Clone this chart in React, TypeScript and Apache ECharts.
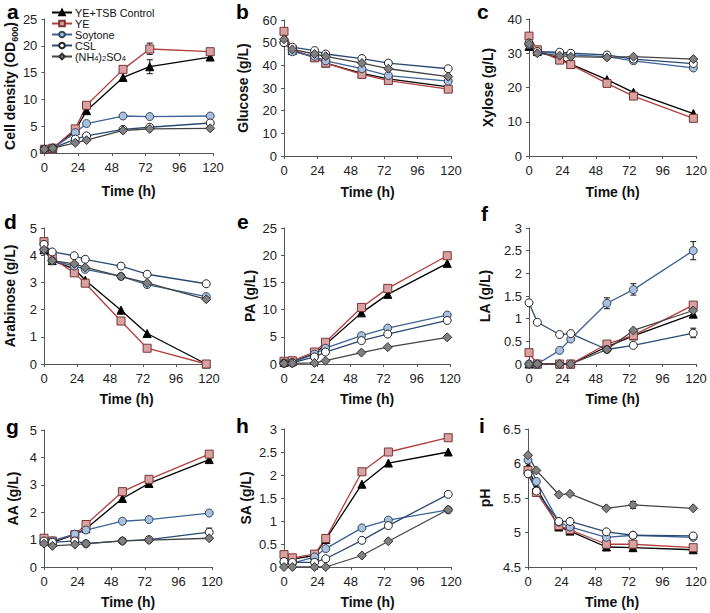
import React, { useEffect, useRef } from "react";
import * as echarts from "echarts";

const times = [0, 6, 22, 30, 56, 75, 118];
const seriesNames = ["YE+TSB Control", "YE", "Soytone", "CSL", "(NH4)2SO4"];

// a: Cell density (OD600)
const odControl = [0.7, 0.9, 4.2, 7.9, 14.1, 16.1, 17.9];
const odYE = [0.7, 0.9, 4.5, 8.9, 15.6, 19.4, 18.9];
const odSoytone = [0.7, 0.9, 3.8, 5.5, 6.9, 6.8, 6.9];
const odCSL = [0.7, 0.9, 2.6, 3.2, 4.4, 4.8, 5.6];
const odNH4 = [0.7, 0.9, 1.9, 2.4, 4.2, 4.5, 4.6];

// b: Glucose
const gluControl = [52, 46.5, 43.5, 41, 36.5, 34, 30.5];
const gluYE = [55, 47, 43.3, 41, 36, 33.3, 29.5];
const gluSoytone = [50, 46, 44, 42, 38.5, 35.5, 33];
const gluCSL = [50, 48, 46.5, 45, 43, 41, 38.5];
const gluNH4 = [51.5, 47, 45, 44, 41, 38.5, 35];

// c: Xylose
const xylControl = [32, 30.5, 28.5, 26.8, 22.3, 18.6, 12.4];
const xylYE = [35, 31, 28, 26.7, 21.2, 17.5, 11];
const xylSoytone = [32.5, 30.3, 30, 29.5, 29, 27.8, 25.7];
const xylCSL = [33, 30.5, 30.3, 30, 29.5, 28.3, 27];
const xylNH4 = [32.7, 30, 29.3, 29, 28.8, 29, 28.3];

// d: Arabinose
const araControl = [4.2, 3.8, 3.5, 3.08, 1.98, 1.12, 0];
const araYE = [4.5, 3.9, 3.35, 2.97, 1.58, 0.58, 0];
const araSoytone = [4.2, 3.8, 3.6, 3.48, 3.22, 2.92, 2.48];
const araCSL = [4.4, 4.12, 3.98, 3.85, 3.6, 3.3, 2.95];
const araNH4 = [4.2, 3.8, 3.68, 3.55, 3.22, 2.98, 2.38];

// e: PA
const paControl = [0.3, 0.4, 1.9, 3.6, 9.4, 12.8, 18.5];
const paYE = [0.5, 0.6, 2.2, 4.0, 10.4, 13.9, 19.9];
const paSoytone = [0.2, 0.3, 1.8, 2.9, 5.2, 6.6, 9.0];
const paCSL = [0.1, 0.2, 1.3, 2.2, 4.3, 5.5, 8.0];
const paNH4 = [0.1, 0.1, 0.2, 0.6, 2.1, 3.1, 4.9];

// f: LA
const laControl = [0, 0, 0, 0, 0.38, 0.62, 1.1];
const laYE = [0.25, 0, 0, 0, 0.44, 0.63, 1.3];
const laSoytone = [0, 0, 0.3, 0.55, 1.34, 1.64, 2.5];
const laCSL = [1.35, 0.92, 0.65, 0.67, 0.32, 0.41, 0.68];
const laNH4 = [0, 0, 0, 0, 0.32, 0.74, 1.18];

// g: AA
const aaControl = [0.95, 0.9, 1.18, 1.4, 2.5, 3.05, 3.92];
const aaYE = [1.05, 0.95, 1.18, 1.55, 2.75, 3.2, 4.12];
const aaSoytone = [0.9, 0.95, 1.2, 1.35, 1.67, 1.73, 1.97];
const aaCSL = [0.95, 0.9, 0.95, 0.85, 0.95, 1.0, 1.27];
const aaNH4 = [0.85, 0.77, 0.82, 0.85, 0.95, 0.98, 1.05];

// h: SA
const saControl = [0.2, 0.17, 0.25, 0.6, 1.8, 2.26, 2.5];
const saYE = [0.27, 0.2, 0.28, 0.62, 2.07, 2.5, 2.81];
const saSoytone = [0.1, 0.08, 0.22, 0.4, 0.85, 1.02, 1.24];
const saCSL = [0.12, 0.1, 0.1, 0.18, 0.58, 0.9, 1.58];
const saNH4 = [0, 0, 0, 0, 0.25, 0.56, 1.25];

// i: pH
const phControl = [5.95, 5.65, 5.08, 5.02, 4.79, 4.78, 4.75];
const phYE = [5.9, 5.58, 5.1, 5.04, 4.83, 4.83, 4.78];
const phSoytone = [6.05, 5.74, 5.15, 5.08, 4.93, 4.96, 4.93];
const phCSL = [5.85, 5.6, 5.16, 5.16, 5.01, 4.96, 4.95];
const phNH4 = [6.12, 5.9, 5.55, 5.56, 5.35, 5.4, 5.35];

// error bars: [time, low, high]
const errA = [[75, 14.8, 17.4], [75, 18.4, 20.5]];
const errF = [[56, 1.22, 1.46], [75, 1.52, 1.77], [118, 2.3, 2.7], [118, 0.58, 0.79]];
const errG = [[118, 1.12, 1.42]];
const errI = [[75, 5.35, 5.45]];

const FONT = "Liberation Sans, Arial, Helvetica, sans-serif";

const styles = [
  { line: "#000000", fill: "#000000", border: "#000000", symbol: "triangle", size: 8 },
  { line: "#b3403f", fill: "#d9a2a2", border: "#7a3535", symbol: "rect", size: 8 },
  { line: "#3b6397", fill: "#a9c0de", border: "#35465e", symbol: "circle", size: 8 },
  { line: "#2a4a73", fill: "#ffffff", border: "#222222", symbol: "circle", size: 8 },
  { line: "#444444", fill: "#808080", border: "#333333", symbol: "diamond", size: 9 },
];

const panels = [
  { letter: "a", lx: 13, ly: 13, yName: "Cell density (OD{sub|600})", min: 0, max: 25, interval: 5, left: 44, top: 19, width: 169, height: 134, gap: 23, xGap: 31, data: [odControl, odYE, odSoytone, odCSL, odNH4], err: errA },
  { letter: "b", lx: 242, ly: 13, yName: "Glucose (g/L)", min: 0, max: 60, interval: 10, left: 284, top: 20, width: 167, height: 136, gap: 32, xGap: 29, data: [gluControl, gluYE, gluSoytone, gluCSL, gluNH4], err: [] },
  { letter: "c", lx: 483, ly: 13, yName: "Xylose (g/L)", min: 0, max: 40, interval: 10, left: 529, top: 19, width: 168, height: 137, gap: 32, xGap: 29, data: [xylControl, xylYE, xylSoytone, xylCSL, xylNH4], err: [] },
  { letter: "d", lx: 10, ly: 223, yName: "Arabinose (g/L)", min: 0, max: 5, interval: 1, left: 43, top: 228, width: 166, height: 136, gap: 25, xGap: 28, data: [araControl, araYE, araSoytone, araCSL, araNH4], err: [] },
  { letter: "e", lx: 243, ly: 223, yName: "PA (g/L)", min: 0, max: 25, interval: 5, left: 284, top: 228, width: 166, height: 136, gap: 25, xGap: 28, data: [paControl, paYE, paSoytone, paCSL, paNH4], err: [] },
  { letter: "f", lx: 487, ly: 215, yName: "LA (g/L)", min: 0, max: 3, interval: 0.5, left: 529, top: 228, width: 167, height: 136, gap: 35, xGap: 28, data: [laControl, laYE, laSoytone, laCSL, laNH4], err: errF },
  { letter: "g", lx: 12, ly: 428, yName: "AA (g/L)", min: 0, max: 5, interval: 1, left: 44, top: 430, width: 168, height: 137, gap: 22, xGap: 28, data: [aaControl, aaYE, aaSoytone, aaCSL, aaNH4], err: errG },
  { letter: "h", lx: 242, ly: 427, yName: "SA (g/L)", min: 0, max: 3, interval: 0.5, left: 284, top: 429, width: 167, height: 138, gap: 27, xGap: 28, data: [saControl, saYE, saSoytone, saCSL, saNH4], err: [] },
  { letter: "i", lx: 485, ly: 427, yName: "pH", min: 4.5, max: 6.5, interval: 0.5, left: 528, top: 429, width: 168, height: 138, gap: 34, xGap: 28, data: [phControl, phYE, phSoytone, phCSL, phNH4], err: errI },
];

function buildOption() {
  const grid: any[] = [];
  const xAxis: any[] = [];
  const yAxis: any[] = [];
  const series: any[] = [];
  const graphic: any[] = [];
  const axisLine = { show: true, lineStyle: { color: "#555", width: 1 } };
  const axisTick = { show: true, length: 3, lineStyle: { color: "#555" } };
  const xLabel = { fontSize: 13, color: "#222", fontFamily: FONT, margin: 8 };
  const yLabel = { fontSize: 13, color: "#222", fontFamily: FONT, margin: 7 };

  panels.forEach((p, i) => {
    grid.push({ left: p.left, top: p.top, width: p.width, height: p.height, containLabel: false });
    xAxis.push({
      type: "value", gridIndex: i, min: 0, max: 120, interval: 24,
      axisLine, axisTick, axisLabel: xLabel, splitLine: { show: false },
      name: "Time (h)", nameLocation: "middle", nameGap: p.xGap,
      nameTextStyle: { fontSize: 14, fontWeight: "bold", color: "#111", fontFamily: FONT },
    });
    yAxis.push({
      type: "value", gridIndex: i, min: p.min, max: p.max, interval: p.interval,
      axisLine, axisTick, axisLabel: yLabel, splitLine: { show: false },
      name: p.yName, nameLocation: "middle", nameGap: p.gap,
      nameTextStyle: {
        fontSize: 14, fontWeight: "bold", color: "#111", fontFamily: FONT, lineHeight: 18,
        rich: { sub: { fontSize: 9, fontWeight: "bold", color: "#111", fontFamily: FONT, lineHeight: 9, verticalAlign: "bottom" } },
      },
    });
    p.data.forEach((vals, k) => {
      const s = styles[k];
      series.push({
        type: "line", name: seriesNames[k], xAxisIndex: i, yAxisIndex: i,
        data: vals.map((v, j) => [times[j], v]),
        symbol: s.symbol, symbolSize: s.size, showSymbol: true,
        lineStyle: { color: s.line, width: 1.3 },
        itemStyle: { color: s.fill, borderColor: s.border, borderWidth: 1 },
        z: 3, silent: true,
      });
    });
    if (p.err.length) {
      series.push({
        type: "custom", xAxisIndex: i, yAxisIndex: i, z: 2, silent: true,
        data: p.err,
        encode: { x: 0, y: [1, 2] },
        renderItem: (_params: any, api: any) => {
          const x = api.value(0);
          const lo = api.coord([x, api.value(1)]);
          const hi = api.coord([x, api.value(2)]);
          const w = 3;
          const st = { stroke: "#111", lineWidth: 1 };
          return {
            type: "group",
            children: [
              { type: "line", shape: { x1: lo[0], y1: lo[1], x2: hi[0], y2: hi[1] }, style: st },
              { type: "line", shape: { x1: lo[0] - w, y1: lo[1], x2: lo[0] + w, y2: lo[1] }, style: st },
              { type: "line", shape: { x1: hi[0] - w, y1: hi[1], x2: hi[0] + w, y2: hi[1] }, style: st },
            ],
          };
        },
      });
    }
    graphic.push({
      type: "text", left: p.lx - 6, top: Math.max(1, p.ly - 12),
      style: { text: p.letter, fontSize: 21, fontWeight: "bold", fill: "#000", fontFamily: FONT },
    });
  });

  return {
    animation: false,
    backgroundColor: "#ffffff",
    grid, xAxis, yAxis, series, graphic,
    legend: {
      orient: "vertical", left: 46, top: 2,
      data: seriesNames,
      itemWidth: 20, itemHeight: 7, itemGap: 0,
      selectedMode: false,
      formatter: (name: string) => (name === "(NH4)2SO4" ? "(NH{s|4}){s|2}SO{s|4}" : name),
      textStyle: {
        fontSize: 10.8, color: "#111", fontFamily: FONT, lineHeight: 11, padding: [0, 0, 0, -2],
        rich: { s: { fontSize: 7.5, lineHeight: 7, color: "#111", fontFamily: FONT, verticalAlign: "bottom" } },
      },
    },
  };
}

export default function App() {
  const ref = useRef<HTMLDivElement>(null);
  useEffect(() => {
    document.body.style.margin = "0";
    if (!ref.current) return;
    const chart = echarts.init(ref.current, undefined, { renderer: "svg" });
    chart.setOption(buildOption() as any);
    return () => chart.dispose();
  }, []);
  return <div ref={ref} style={{ width: 710, height: 613 }} />;
}
